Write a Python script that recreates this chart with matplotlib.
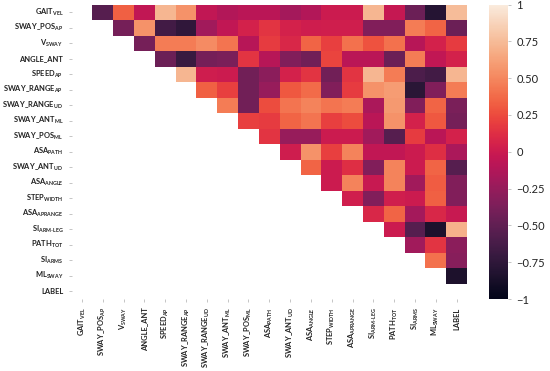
import numpy as np
import pandas as pd
import matplotlib
matplotlib.use("Agg")
import matplotlib.pyplot as plt
import seaborn as sns

plt.rcParams['font.family'] = ['Lato', 'DejaVu Sans']
plt.rcParams['mathtext.fontset'] = 'custom'
plt.rcParams['mathtext.rm'] = 'Lato'
plt.rcParams['mathtext.it'] = 'Lato'
plt.rcParams['mathtext.bf'] = 'Lato:bold'

names = [
    r"$\mathregular{GAIT_{VEL}}$",
    r"$\mathregular{SWAY\_POS_{AP}}$",
    r"$\mathregular{V_{SWAY}}$",
    "ANGLE_ANT",
    r"$\mathregular{SPEED_{AP}}$",
    r"$\mathregular{SWAY\_RANGE_{AP}}$",
    r"$\mathregular{SWAY\_RANGE_{UD}}$",
    r"$\mathregular{SWAY\_ANT_{ML}}$",
    r"$\mathregular{SWAY\_POS_{ML}}$",
    r"$\mathregular{ASA_{PATH}}$",
    r"$\mathregular{SWAY\_ANT_{UD}}$",
    r"$\mathregular{ASA_{ANGLE}}$",
    r"$\mathregular{STEP_{WIDTH}}$",
    r"$\mathregular{ASA_{APRANGE}}$",
    r"$\mathregular{SI_{ARM\text{-}LEG}}$",
    r"$\mathregular{PATH_{TOT}}$",
    r"$\mathregular{SI_{ARMS}}$",
    r"$\mathregular{ML_{SWAY}}$",
    "LABEL",
]

# upper-triangle correlations, row i holds columns i+1 .. 18
r00 = [-0.55, 0.33, -0.05, 0.72, 0.55, -0.05, -0.12, -0.08, -0.08, -0.18, -0.12, 0.0, 0.0, 0.72, -0.03, -0.45, -0.80, 0.75]
r01 = [-0.40, 0.55, -0.65, -0.75, -0.20, -0.05, 0.05, 0.15, 0.05, 0.02, 0.03, 0.03, -0.35, -0.35, 0.45, 0.35, -0.45]
r02 = [-0.40, 0.45, 0.45, 0.52, 0.42, -0.10, 0.18, 0.08, 0.35, 0.20, 0.40, 0.28, 0.40, -0.10, 0.05, 0.18]
r03 = [-0.45, -0.70, -0.40, -0.38, 0.15, -0.10, -0.35, -0.42, 0.22, -0.08, -0.08, -0.45, 0.45, -0.05, 0.05]
r04 = [0.72, 0.02, 0.0, -0.42, -0.30, 0.05, 0.15, -0.42, 0.15, 0.72, 0.45, -0.60, -0.65, 0.72]
r05 = [0.33, 0.20, -0.42, -0.25, 0.30, 0.38, -0.35, 0.18, 0.55, 0.60, -0.78, -0.35, 0.45]
r06 = [0.45, -0.42, 0.25, 0.42, 0.48, 0.42, 0.45, -0.15, 0.58, -0.35, 0.35, -0.38]
r07 = [0.20, 0.18, 0.35, 0.42, 0.20, 0.25, -0.08, 0.55, 0.05, 0.30, -0.40]
r08 = [0.15, -0.25, -0.25, 0.0, 0.0, -0.20, -0.55, 0.18, -0.08, 0.05]
r09 = [0.02, 0.55, 0.20, 0.48, -0.05, -0.05, 0.0, 0.12, -0.15]
r10 = [0.35, 0.0, 0.12, -0.35, 0.48, 0.0, 0.35, -0.55]
r11 = [0.0, 0.48, -0.02, 0.48, -0.20, 0.32, -0.35]
r12 = [0.03, -0.35, 0.03, 0.0, 0.33, -0.35]
r13 = [0.08, 0.35, -0.18, 0.08, -0.02]
r14 = [0.0, -0.55, -0.85, 0.70]
r15 = [-0.20, 0.15, -0.30]
r16 = [0.40, -0.32]
r17 = [-0.85]
upper_rows = [r00, r01, r02, r03, r04, r05, r06, r07, r08, r09, r10, r11, r12, r13, r14, r15, r16, r17]

n = len(names)
corr = np.eye(n)
for i, row in enumerate(upper_rows):
    for k, v in enumerate(row):
        j = i + 1 + k
        corr[i, j] = v
        corr[j, i] = v
df = pd.DataFrame(corr, index=names, columns=names)
mask = np.tril(np.ones_like(corr, dtype=bool))

W, H = 550, 371
fig = plt.figure(figsize=(W / 100, H / 100), dpi=100)
ax = fig.add_axes([71.6 / W, (H - 299) / H, (467 - 71.6) / W, 294.5 / H])
cax = fig.add_axes([489 / W, (H - 299) / H, 19 / W, 294.5 / H])

sns.heatmap(df, mask=mask, cmap="rocket", vmin=-1, vmax=1, ax=ax, cbar_ax=cax,
            xticklabels=True, yticklabels=True)

ax.tick_params(axis='both', length=2, width=0.6, color='#bbbbbb', labelsize=5.4, pad=4,
               labelcolor='#222222')
for lbl in ax.get_yticklabels():
    lbl.set_rotation(0)
    lbl.set_fontweight('bold')
for lbl in ax.get_xticklabels():
    lbl.set_rotation(90)
    lbl.set_fontweight('bold')

cticks = [1, 0.75, 0.5, 0.25, 0, -0.25, -0.5, -0.75, -1]
clabels = ["1", "0.75", "0.50", "0.25", "0", "\u22120.25", "\u22120.50", "\u22120.75", "\u22121"]
cax.set_yticks(cticks)
cax.set_yticklabels(clabels)
cax.tick_params(length=2, width=0.6, color='#bbbbbb', labelsize=8, pad=4, labelcolor='#222222')

fig.savefig("out.png", dpi=100)
